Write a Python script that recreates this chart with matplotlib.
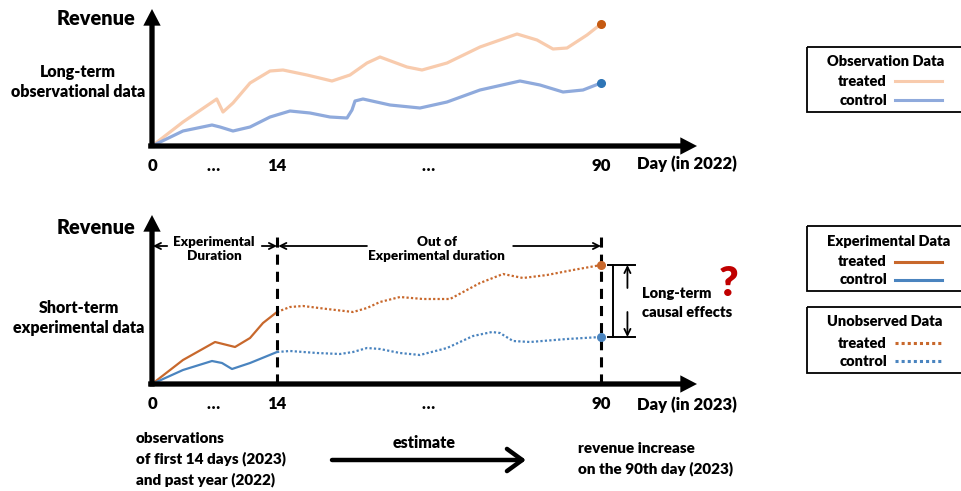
import numpy as np
import matplotlib
matplotlib.use('Agg')
import matplotlib.pyplot as plt
from matplotlib.patches import Rectangle
from matplotlib.lines import Line2D

plt.rcParams['font.family'] = ['Lato', 'DejaVu Sans']
FW = 'heavy'
plt.rcParams['font.weight'] = FW

# ---------------- data (day, revenue index) ----------------
tick_pos = [0, 6.83, 14, 49.4, 90]
tick_labels = ['0', '\u2026', '14', '\u2026', '90']

# Long-term observational data (2022)
obs_treated_day = [0, 3.47, 7.25, 7.95, 9.07, 10.98, 13.22, 15.41, 21.04, 26.9, 31.12,
                   35.11, 38.16, 44.49, 48.01, 53.88, 61.62, 70.30, 74.99, 78.74, 82.03, 86.72, 90]
obs_treated_rev = [0, 24, 47, 34, 43, 63, 75, 76, 71, 65, 71,
                   83, 89, 79, 76, 83, 99, 112, 106, 97, 98, 111, 122]
obs_control_day = [0, 3.47, 6.72, 7.62, 9.07, 10.98, 13.22, 17.05, 21.74, 26.43, 30.42, 31.59,
                   32.30, 34.17, 40.51, 47.54, 53.88, 61.62, 71.0, 75.69, 81.09, 85.78, 90]
obs_control_rev = [0, 15, 21, 19, 15, 19, 29, 35, 33, 29, 28, 36,
                   45, 47, 41, 38, 44, 56, 65, 61, 54, 56, 63]

# Short-term experimental data (2023)
exp_treated_day = [0, 3.47, 7.06, 9.30, 10.98, 12.43, 14]
exp_treated_rev = [0, 24, 42, 37, 46, 61, 72]
exp_control_day = [0, 3.47, 6.72, 7.84, 8.96, 10.98, 14]
exp_control_rev = [0, 14, 23, 21, 15, 21, 32]

# Unobserved data (2023)
unobs_treated_day = [14, 17.05, 20.10, 25.73, 31.83, 35.11, 38.16, 42.85, 48.25, 54.58,
                     61.62, 67.01, 71.70, 77.33, 83.43, 90]
unobs_treated_rev = [72, 77, 78, 75, 72, 76, 82, 87, 85, 85,
                     101, 110, 106, 109, 114, 119]
unobs_control_day = [14, 17.05, 23.38, 28.78, 31.83, 35.11, 38.16, 42.85, 47.54, 53.88,
                     59.98, 64.43, 66.31, 69.36, 73.35, 82.03, 90]
unobs_control_rev = [32, 33, 31, 30, 32, 36, 35, 31, 29, 36,
                     48, 52, 51, 43, 42, 45, 47]

# ---------------- styling ----------------
C_OBS_T = '#F8CBAD'
C_OBS_C = '#8FAADC'
C_T = '#C8682C'
C_C = '#4A84BF'
C_DOT_T = '#C55A11'
C_DOT_C = '#2E75B6'

W, H = 961, 491
fig = plt.figure(figsize=(W / 100, H / 100), dpi=100)


def fwd(d):
    d = np.asarray(d, dtype=float)
    return np.where(d <= 14, d * 125 / 14, 125 + (d - 14) * 324 / 76)


def inv(p):
    p = np.asarray(p, dtype=float)
    return np.where(p <= 125, p * 14 / 125, 14 + (p - 125) * 76 / 324)


def px_box(x0, y_axis, y_top, x1):
    return [x0 / W, (H - y_axis) / H, (x1 - x0) / W, (y_axis - y_top) / H]


def setup(ax, ymax):
    ax.set_xscale('function', functions=(fwd, inv))
    ax.set_xlim(0, float(inv(545)))
    ax.set_ylim(0, ymax)
    for s in ax.spines.values():
        s.set_visible(False)
    ax.set_yticks([])
    ax.set_xticks(tick_pos, tick_labels)
    ax.minorticks_off()
    ax.tick_params(axis='x', length=0, pad=8.5, labelsize=12)
    for t in ax.get_xticklabels():
        t.set_fontweight(FW)
    ax.patch.set_visible(False)
    ap = dict(width=3.8, headwidth=12.5, headlength=12, facecolor='black',
              edgecolor='none', shrink=0)
    ax.annotate('', xy=(1, 0), xytext=(-0.007, 0), xycoords='axes fraction',
                arrowprops=ap, annotation_clip=False)
    ax.annotate('', xy=(0, 1), xytext=(0, -0.015), xycoords='axes fraction',
                arrowprops=ap, annotation_clip=False)


# ---------------- top chart ----------------
ax1 = fig.add_axes(px_box(152, 146, 9, 697))
setup(ax1, 137)
ax1.plot(obs_treated_day, obs_treated_rev, color=C_OBS_T, lw=2.3,
         solid_joinstyle='round', solid_capstyle='round', zorder=2)
ax1.plot(obs_control_day, obs_control_rev, color=C_OBS_C, lw=2.3,
         solid_joinstyle='round', solid_capstyle='round', zorder=2)
ax1.plot([obs_treated_day[-1]], [obs_treated_rev[-1]], 'o', color=C_DOT_T, ms=5.5, zorder=3)
ax1.plot([obs_control_day[-1]], [obs_control_rev[-1]], 'o', color=C_DOT_C, ms=5.5, zorder=3)

# ---------------- bottom chart ----------------
ax2 = fig.add_axes(px_box(152, 384, 215, 697))
setup(ax2, 169)
ax2.plot(exp_treated_day, exp_treated_rev, color=C_T, lw=1.6, solid_joinstyle='round', zorder=2)
ax2.plot(exp_control_day, exp_control_rev, color=C_C, lw=1.6, solid_joinstyle='round', zorder=2)
ax2.plot(unobs_treated_day, unobs_treated_rev, color=C_T, lw=1.6, ls=(0, (1, 1)), zorder=2)
ax2.plot(unobs_control_day, unobs_control_rev, color=C_C, lw=1.6, ls=(0, (1, 1)), zorder=2)
t_end = unobs_treated_rev[-1]
c_end = unobs_control_rev[-1]
ax2.plot([90], [t_end], 'o', color=C_T, ms=5.5, zorder=4)
ax2.plot([90], [c_end], 'o', color=C_C, ms=5.5, zorder=4)

# dashed markers of day 14 and day 90
for d in (14, 90):
    ax2.plot([d, d], [0, 154], color='black', lw=2.2, ls=(0, (3.3, 2.3)), zorder=3)

# duration arrows
arw = dict(arrowstyle='->', lw=1.3, color='black', shrinkA=0, shrinkB=0, mutation_scale=11)
ax2.annotate('', xy=(0.1, 138), xytext=(1.7, 138), arrowprops=arw)
ax2.annotate('', xy=(14, 138), xytext=(12.3, 138), arrowprops=arw)
ax2.annotate('', xy=(14.3, 138), xytext=(35.1, 138), arrowprops=arw)
ax2.annotate('', xy=(90, 138), xytext=(69.4, 138), arrowprops=arw)
ax2.text(6.95, 135, 'Experimental\nDuration', ha='center', va='center', fontsize=9.7,
         fontweight=FW, linespacing=1.25)
ax2.text(51.5, 135, 'Out of\nExperimental duration', ha='center', va='center', fontsize=9.7,
         fontweight=FW, linespacing=1.25)

# long-term causal effect bracket
ax2.plot([91.6, 98.0], [t_end, t_end], color='black', lw=1.4, clip_on=False)
ax2.plot([91.6, 98.0], [c_end, c_end], color='black', lw=1.4, clip_on=False)
ax2.plot([92.7, 92.7], [t_end, c_end], color='black', lw=1.4, clip_on=False)
ax2.annotate('', xy=(96.2, t_end), xytext=(96.2, 96), arrowprops=arw)
ax2.annotate('', xy=(96.2, c_end), xytext=(96.2, 72), arrowprops=arw)

# ---------------- overlay (labels, legends, bottom text) ----------------
ov = fig.add_axes([0, 0, 1, 1])
ov.set_xlim(0, W)
ov.set_ylim(H, 0)
ov.axis('off')

ov.text(135, 18, 'Revenue', ha='right', va='center', fontsize=14.3, fontweight=FW)
ov.text(78, 82, 'Long-term\nobservational data', ha='center', va='center', fontsize=11.5,
        fontweight=FW, linespacing=1.25)
ov.text(637, 164, 'Day (in 2022)', ha='left', va='center', fontsize=12, fontweight=FW)

ov.text(135, 228, 'Revenue', ha='right', va='center', fontsize=14.3, fontweight=FW)
ov.text(79, 318, 'Short-term\nexperimental data', ha='center', va='center', fontsize=11.5,
        fontweight=FW, linespacing=1.25)
ov.text(637, 404.5, 'Day (in 2023)', ha='left', va='center', fontsize=12, fontweight=FW)

ov.text(642, 293, 'Long-term', ha='left', va='center', fontsize=10.5, fontweight=FW)
ov.text(642, 312.5, 'causal effects', ha='left', va='center', fontsize=10.5, fontweight=FW)
ov.text(729, 296, '?', ha='center', va='baseline', fontsize=30, fontweight=FW, color='#C00000')


def legend_box(y0, y1, title, ty, rows):
    ov.add_patch(Rectangle((807, y0), 170, y1 - y0, fill=False, edgecolor='black',
                           lw=1.3, clip_on=False))
    ov.text(827, ty, title, ha='left', va='center', fontsize=10.5, fontweight=FW)
    for label, yy, col, ls in rows:
        ov.text(887, yy, label, ha='right', va='center', fontsize=10.5, fontweight=FW)
        ov.add_line(Line2D([895, 942], [yy, yy], color=col, lw=2.2, ls=ls))


legend_box(47, 112, 'Observation Data', 61,
           [('treated', 81, C_OBS_T, '-'), ('control', 100, C_OBS_C, '-')])
legend_box(226, 291, 'Experimental Data', 241,
           [('treated', 262, C_T, '-'), ('control', 280, C_C, '-')])
legend_box(307, 373, 'Unobserved Data', 322,
           [('treated', 343, C_T, (0, (1, 1))), ('control', 361, C_C, (0, (1, 1)))])

ov.text(136, 459.5, 'observations\nof first 14 days (2023)\nand past year (2022)', ha='left',
        va='center', fontsize=11, fontweight=FW, linespacing=1.5)
ov.text(424, 443, 'estimate', ha='center', va='center', fontsize=11.5, fontweight=FW)
ov.annotate('', xy=(526, 460), xytext=(332, 460),
            arrowprops=dict(arrowstyle='->, head_length=0.55, head_width=0.4', lw=3.2,
                            color='black', shrinkA=0, shrinkB=0, mutation_scale=20))
ov.text(578, 459, 'revenue increase\non the 90th day (2023)', ha='left', va='center',
        fontsize=11, fontweight=FW, linespacing=1.5)

fig.savefig('out.png', dpi=100)
